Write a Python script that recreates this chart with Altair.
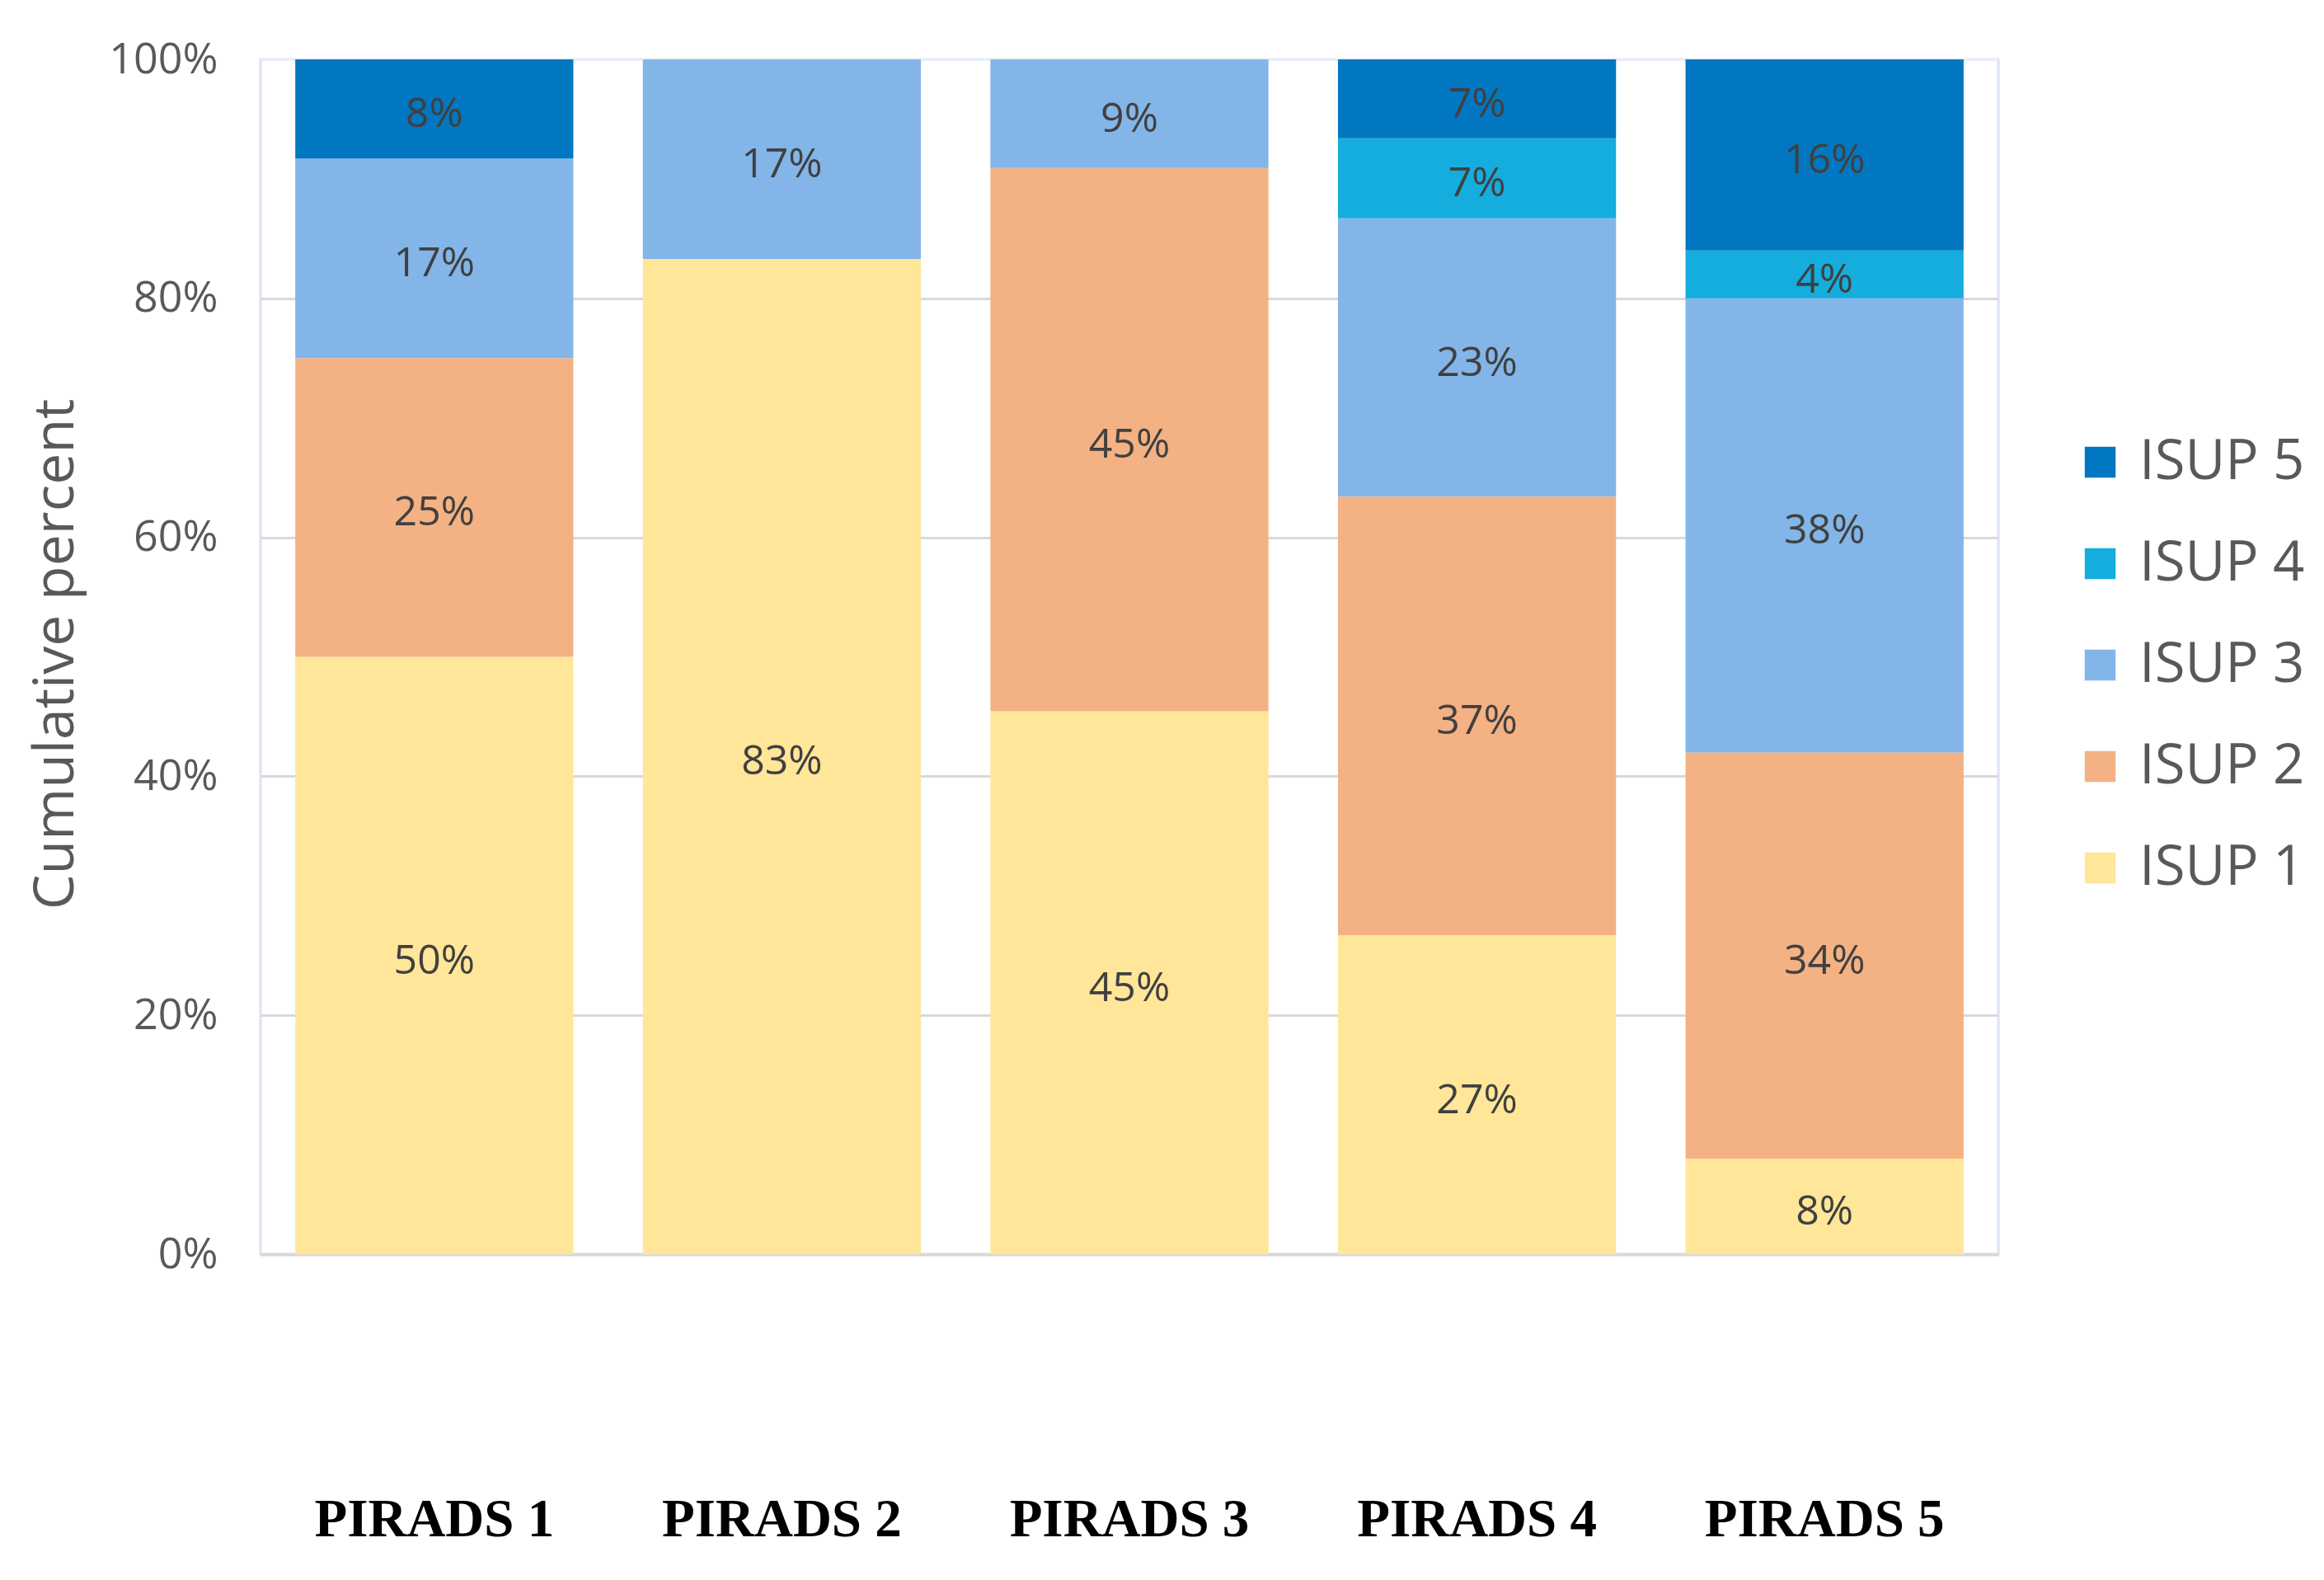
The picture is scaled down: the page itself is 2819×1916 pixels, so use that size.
import altair as alt
import pandas as pd

pirads = ["PIRADS 1", "PIRADS 2", "PIRADS 3", "PIRADS 4", "PIRADS 5"]
isup_levels = ["ISUP 1", "ISUP 2", "ISUP 3", "ISUP 4", "ISUP 5"]
isup1 = [50.0, 83.3, 45.45, 26.7, 8.0]
isup2 = [25.0, 0.0, 45.45, 36.7, 34.0]
isup3 = [16.7, 16.7, 9.1, 23.3, 38.0]
isup4 = [0.0, 0.0, 0.0, 6.7, 4.0]
isup5 = [8.3, 0.0, 0.0, 6.6, 16.0]
colors = ["#FFE699", "#F4B183", "#83B5E8", "#14ADDE", "#0177C1"]
y_ticks = [0, 20, 40, 60, 80, 100]

series = [isup1, isup2, isup3, isup4, isup5]
rows = []
for i, p in enumerate(pirads):
    for j, name in enumerate(isup_levels):
        rows.append({"pirads": p, "isup": name, "value": series[j][i], "order": j})
df = pd.DataFrame(rows)

legend_order = list(reversed(isup_levels))
legend_colors = list(reversed(colors))

base = alt.Chart(df).transform_stack(
    stack="value", as_=["y0", "y1"], groupby=["pirads"],
    sort=[alt.SortField("order", order="ascending")]
).transform_calculate(
    mid="(datum.y0 + datum.y1) / 2",
    label="round(datum.value) + '%'"
)

x_enc = alt.X(
    "pirads:N", sort=pirads,
    scale=alt.Scale(paddingInner=0.2, paddingOuter=0.1),
    axis=alt.Axis(title=None, labelAngle=0, ticks=False, labelPadding=290,
                  labelFont="Liberation Serif", labelFontWeight="bold",
                  labelFontSize=65, labelColor="#000000", labelLimit=0,
                  domainColor="#d9d9d9", domainWidth=4, grid=False),
)

y_scale = alt.Scale(domain=[0, 100], nice=False)
y_axis = alt.Axis(
    values=y_ticks, labelExpr="datum.value + '%'", ticks=False, domain=False,
    labelPadding=52, labelFont="Open Sans", labelFontSize=52, labelColor="#595959",
    grid=True,
    gridColor=alt.condition("datum.value == 100 || datum.value == 0",
                            alt.value("#e9eef7"), alt.value("#d9d9d9")),
    gridWidth=3,
    title="Cumulative percent", titleFont="Open Sans", titleFontSize=68,
    titleFontWeight="normal", titleColor="#595959",
    titleX=-248, titleY=721, titleAngle=-90, titleAlign="center",
    titleBaseline="middle",
)

bars = base.mark_bar().encode(
    x=x_enc,
    y=alt.Y("y0:Q", scale=y_scale, axis=y_axis),
    y2="y1:Q",
    color=alt.Color(
        "isup:N",
        scale=alt.Scale(domain=legend_order, range=legend_colors),
        legend=alt.Legend(title=None, orient="none", legendX=2198, legendY=455,
                          padding=0,
                          symbolType="square", symbolSize=1400,
                          symbolStrokeWidth=0,
                          labelFont="Open Sans", labelFontSize=67, labelLimit=0,
                          labelColor="#595959", rowPadding=55, labelOffset=14),
    ),
)

text = base.transform_filter("datum.value > 0").mark_text(
    font="Open Sans", fontSize=50, color="#404040", baseline="middle", dy=7
).encode(
    x=x_enc,
    y=alt.Y("mid:Q", scale=y_scale, axis=y_axis),
    text="label:N",
)

chart = alt.layer(bars, text).properties(
    width=2108, height=1449,
    autosize=alt.AutoSizeParams(type="none"),
    padding={"left": 316, "top": 72, "right": 395, "bottom": 395},
    background="white",
).configure_view(stroke="#dae3f3", strokeWidth=3)

chart.save("out.html", embed_options={"renderer": "svg", "actions": False})
